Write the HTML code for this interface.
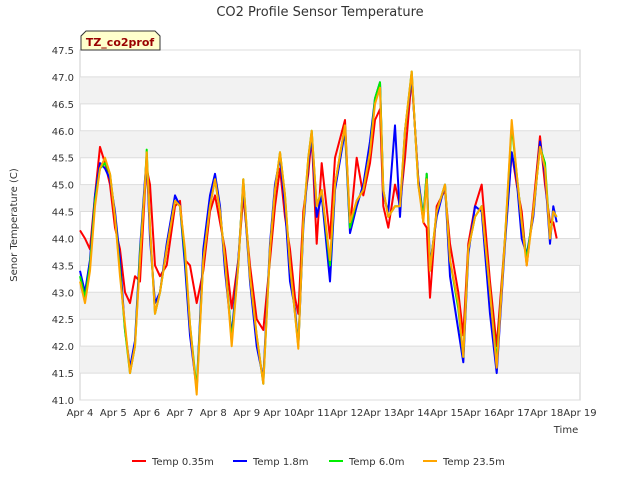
<!DOCTYPE html>
<html><head><meta charset="utf-8"><style>
body{margin:0;background:#fff;font-family:"Liberation Sans","DejaVu Sans",sans-serif}
</style></head><body>
<svg width="640" height="480" viewBox="0 0 640 480" xmlns="http://www.w3.org/2000/svg" font-family="DejaVu Sans, Liberation Sans, sans-serif">
<text x="320" y="16" text-anchor="middle" font-size="13" fill="#333">CO2 Profile Sensor Temperature</text>
<g id="bands"></g>
<g id="yaxis"></g>
<g id="xaxis"></g>
<g id="series"></g>
<text x="566" y="433" text-anchor="middle" font-size="10" fill="#333">Time</text>
<text transform="translate(17,225) rotate(-90)" text-anchor="middle" font-size="10" fill="#333">Senor Temperature (C)</text>
<g>
<path d="M81,50 L81,36 L86,31 L155,31 L160,36 L160,50 Z" fill="#ffffcc" stroke="#333" stroke-width="1"/>
<text x="120" y="46" text-anchor="middle" font-size="11" font-weight="bold" fill="#990000">TZ_co2prof</text>
</g>
<g id="legend"></g>
</svg>
<script>
const times=[0,0.15,0.3,0.45,0.6,0.75,0.9,1.05,1.2,1.35,1.5,1.65,1.8,1.95,2.0,2.1,2.25,2.4,2.6,2.85,3.0,3.15,3.3,3.5,3.7,3.9,4.05,4.2,4.35,4.55,4.75,4.9,5.1,5.3,5.5,5.7,5.85,6.0,6.15,6.3,6.45,6.55,6.7,6.85,6.95,7.1,7.25,7.5,7.65,7.95,8.1,8.3,8.5,8.7,8.85,9.0,9.1,9.25,9.45,9.6,9.75,9.95,10.15,10.3,10.4,10.5,10.7,10.95,11.1,11.35,11.5,11.65,11.85,12.05,12.3,12.5,12.75,12.95,13.1,13.25,13.4,13.6,13.8,13.95,14.1,14.2,14.3];
const temp035=[44.15,44.0,43.8,44.8,45.7,45.4,45.0,44.2,43.8,43.0,42.8,43.3,43.2,44.9,45.3,45.0,43.5,43.3,43.5,44.6,44.7,43.6,43.5,42.8,43.4,44.5,44.8,44.3,43.8,42.7,43.6,44.8,43.5,42.5,42.3,43.6,44.6,45.3,44.4,43.8,42.9,42.6,44.5,45.2,45.9,43.9,45.4,44.0,45.5,46.2,44.2,45.5,44.8,45.4,46.2,46.4,44.6,44.2,45.0,44.6,45.5,47.0,45.1,44.3,44.2,42.9,44.6,44.9,43.9,43.0,42.2,43.9,44.6,45.0,43.2,42.0,44.0,45.6,45.0,44.5,43.5,44.6,45.9,45.0,44.3,44.3,44.0];
const temp18=[43.4,43.0,43.6,44.8,45.4,45.3,45.1,44.5,43.6,42.3,41.6,42.1,43.8,45.1,45.5,44.0,42.8,43.0,43.9,44.8,44.6,43.5,42.2,41.2,43.8,44.8,45.2,44.6,43.4,42.2,43.6,45.0,43.2,42.0,41.4,43.9,45.0,45.5,44.6,43.2,42.7,42.0,44.2,45.4,45.9,44.4,44.8,43.2,44.9,46.0,44.1,44.6,45.0,45.8,46.6,46.9,44.8,44.5,46.1,44.4,46.0,47.0,45.1,44.4,45.2,43.5,44.4,45.0,43.3,42.3,41.7,43.7,44.6,44.5,42.6,41.5,43.9,45.6,45.1,44.0,43.7,44.4,45.8,45.2,43.9,44.6,44.3];
const temp60=[43.3,42.9,43.5,44.7,45.3,45.4,45.2,44.4,43.4,42.3,41.5,42.0,43.7,45.0,45.65,44.2,42.6,43.0,43.8,44.7,44.6,43.7,42.4,41.2,43.6,44.6,45.1,44.5,43.6,42.1,43.5,45.1,43.3,42.2,41.3,43.8,44.9,45.6,44.8,43.5,42.6,42.0,44.3,45.5,46.0,44.6,44.9,43.5,45.0,46.1,44.2,44.7,44.9,45.6,46.6,46.9,44.9,44.4,44.6,44.6,46.0,47.1,45.0,44.4,45.2,43.4,44.5,45.0,43.6,42.7,41.8,43.8,44.4,44.6,43.0,41.7,44.0,46.1,45.2,44.3,43.6,44.5,45.7,45.4,44.0,44.5,44.4];
const temp235=[43.2,42.8,43.4,44.6,45.3,45.5,45.2,44.4,43.3,42.4,41.5,42.0,43.6,45.0,45.6,44.2,42.6,43.0,43.8,44.7,44.6,43.8,42.4,41.1,43.6,44.6,45.1,44.5,43.6,42.0,43.5,45.1,43.3,42.2,41.3,43.8,44.9,45.6,44.8,43.5,42.6,41.95,44.3,45.5,46.0,44.6,44.9,43.6,45.0,46.1,44.3,44.7,44.9,45.6,46.5,46.8,44.9,44.4,44.6,44.6,46.0,47.1,45.0,44.3,45.1,43.4,44.5,45.0,43.6,42.8,41.8,43.8,44.4,44.6,43.0,41.6,44.0,46.2,45.2,44.3,43.5,44.5,45.7,45.3,44.0,44.5,44.4];
const yTicks=[41.0,41.5,42.0,42.5,43.0,43.5,44.0,44.5,45.0,45.5,46.0,46.5,47.0,47.5];
const xTickLabels=["Apr 4","Apr 5","Apr 6","Apr 7","Apr 8","Apr 9","Apr 10","Apr 11","Apr 12","Apr 13","Apr 14","Apr 15","Apr 16","Apr 17","Apr 18","Apr 19"];
const seriesNames=["Temp 0.35m","Temp 1.8m","Temp 6.0m","Temp 23.5m"];
const seriesColors=["#ff0000","#0000ff","#00ee00","#ffa500"];
const seriesData=[temp035,temp18,temp60,temp235];

const NS="http://www.w3.org/2000/svg";
const L=80,R=580,T=50,B=400;
const yMin=41,yMax=47.5,xMin=0,xMax=15;
const sx=d=>L+(d-xMin)/(xMax-xMin)*(R-L);
const sy=v=>B-(v-yMin)/(yMax-yMin)*(B-T);
function mk(tag,attrs,parent){const e=document.createElementNS(NS,tag);for(const k in attrs)e.setAttribute(k,attrs[k]);parent.appendChild(e);return e;}

const bands=document.getElementById('bands');
const bg=mk('rect',{x:L,y:T,width:R-L,height:B-T,fill:'#fff',stroke:'#ccc'},bands);


for(let i=0;i<yTicks.length-1;i++){
  if(i%2===1){const r=mk('rect',{x:L,y:sy(yTicks[i+1]),width:R-L,height:sy(yTicks[i])-sy(yTicks[i+1]),fill:'#f2f2f2'},bands);
  
  }
}
const ya=document.getElementById('yaxis');
yTicks.forEach(v=>{
  const g=mk('line',{x1:L,x2:R,y1:sy(v),y2:sy(v),stroke:'#ddd','stroke-width':1},ya);
  
  
  const t=mk('text',{x:L-6,y:sy(v)+4,'text-anchor':'end','font-size':10,fill:'#333'},ya);
  t.textContent=v.toFixed(1);
  
  
});
const xa=document.getElementById('xaxis');
xTickLabels.forEach((lab,i)=>{
  const t=mk('text',{x:sx(i),y:416,'text-anchor':'middle','font-size':10,fill:'#333'},xa);
  t.textContent=lab;
  
  
});
const sg=document.getElementById('series');
seriesData.forEach((arr,si)=>{
  const d=arr.map((v,i)=>(i?'L':'M')+sx(times[i]).toFixed(1)+','+sy(v).toFixed(1)).join(' ');
  const p=mk('path',{d:d,fill:'none',stroke:seriesColors[si],'stroke-width':2,'stroke-linejoin':'round'},sg);
  
  
});
const lg=document.getElementById('legend');
const lx=[132,233,329,423];
seriesNames.forEach((n,i)=>{
  const l=mk('line',{x1:lx[i],x2:lx[i]+14,y1:461,y2:461,stroke:seriesColors[i],'stroke-width':2},lg);
  
  
  const t=mk('text',{x:lx[i]+20,y:465,'font-size':10,fill:'#333'},lg);
  t.textContent=n;
  
  
});
</script>
</body></html>
